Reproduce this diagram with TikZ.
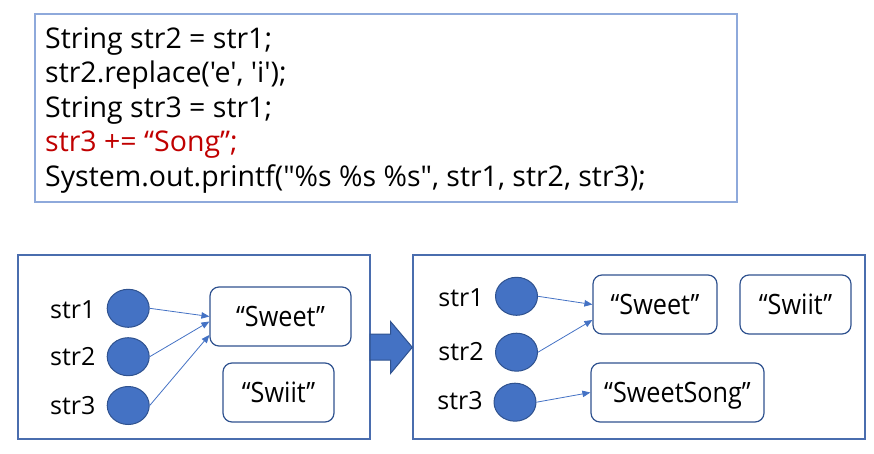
\documentclass[tikz,border=0pt]{standalone}
\usepackage{fontspec}
\setmainfont{Open Sans}[Ligatures=TeXOff]
\newfontfamily\valfont{Open Sans}[Ligatures=TeXOff, FakeStretch=0.9]
\usetikzlibrary{arrows.meta,shapes.geometric}
\definecolor{fillblue}{HTML}{4472C4}
\definecolor{edgeblue}{HTML}{2F528F}
\definecolor{framec}{HTML}{4A6DAE}
\definecolor{codeframe}{HTML}{8EA9DB}
\definecolor{codered}{HTML}{C00000}
\begin{document}
\begin{tikzpicture}[x=1pt,y=-1pt,
  codebox/.style={draw=codeframe, line width=1.5pt, rectangle, inner sep=0pt},
  frame/.style={draw=framec, line width=1.3pt, rectangle, inner sep=0pt},
  valbox/.style={draw=edgeblue, line width=1.2pt, rounded corners=9pt, inner sep=0pt,
    text height=20pt, text depth=0pt, font=\valfont\fontsize{28}{33}\selectfont},
  refdot/.style={ellipse, draw=edgeblue, fill=fillblue, line width=1pt,
    minimum width=42pt, minimum height=38pt, inner sep=0pt},
  varlabel/.style={anchor=base, inner sep=0pt, font=\fontsize{25}{30}\selectfont},
  codeline/.style={anchor=base west, inner sep=0pt, font=\fontsize{28.5}{33}\selectfont},
  ptr/.style={draw=fillblue, line width=0.8pt, -{Triangle[length=8pt,width=6.5pt]}},
  bigarrow/.style={draw=edgeblue, fill=fillblue, line width=1pt, line join=miter}
]
\useasboundingbox (0,0) rectangle (874,454);
% code box
\node[codebox, minimum width=702pt, minimum height=188pt] (code) at (386,108) {};
\node[codeline] (l1) at (45,48.3) {String str2 = str1;};
\node[codeline] (l2) at (45,82.8) {str2.replace('e', 'i');};
\node[codeline] (l3) at (45,117.3) {String str3 = str1;};
\node[codeline, text=codered] (l4) at (45,151.8) {str3 += “Song”;};
\node[codeline] (l5) at (45,186.5) {System.out.printf("\%s \%s \%s", str1, str2, str3);};
% frames
\node[frame, minimum width=352pt, minimum height=184pt] (left) at (194,347) {};
\node[frame, minimum width=452pt, minimum height=184pt] (right) at (639,347) {};
% big arrow
\draw[bigarrow] (370,334) -- (390.7,334) -- (390.7,321.7) -- (412.3,347.3)
  -- (390.7,373.3) -- (390.7,360) -- (370,360) -- cycle;
% left state
\node[varlabel] (ls1) at (72.7,318) {str1};
\node[varlabel] (ls2) at (72.7,365) {str2};
\node[varlabel] (ls3) at (72.7,414) {str3};
\node[refdot] (lc1) at (128.2,308.3) {};
\node[refdot] (lc2) at (128.2,356.7) {};
\node[refdot] (lc3) at (128.2,405.5) {};
\node[valbox, minimum width=141pt, minimum height=59pt] (lsweet) at (280.5,316.5) {“Sweet”};
\node[valbox, minimum width=111pt, minimum height=59pt] (lswiit) at (278.5,392.5) {“Swiit”};
\draw[ptr] (lc1.east) -- (lsweet.west);
\draw[ptr] (lc2.east) -- ([yshift=-5pt]lsweet.west);
\draw[ptr] (lc3.east) -- ([yshift=-18.5pt]lsweet.west);
% right state
\node[varlabel] (rs1) at (461,306) {str1};
\node[varlabel] (rs2) at (461,360) {str2};
\node[varlabel] (rs3) at (460,409.3) {str3};
\node[refdot] (rc1) at (516.5,296.3) {};
\node[refdot] (rc2) at (516.5,352.2) {};
\node[refdot] (rc3) at (515,402.2) {};
\node[valbox, minimum width=124pt, minimum height=59pt] (rsweet) at (655,304.5) {“Sweet”};
\node[valbox, minimum width=111pt, minimum height=59pt] (rswiit) at (795.5,304.5) {“Swiit”};
\node[valbox, minimum width=173pt, minimum height=59pt] (rsong) at (677.5,392.5) {“SweetSong”};
\draw[ptr] (rc1.east) -- (rsweet.west);
\draw[ptr] (rc2.east) -- ([yshift=-15.5pt]rsweet.west);
\draw[ptr] (rc3.east) -- (rsong.west);
\end{tikzpicture}
\end{document}
